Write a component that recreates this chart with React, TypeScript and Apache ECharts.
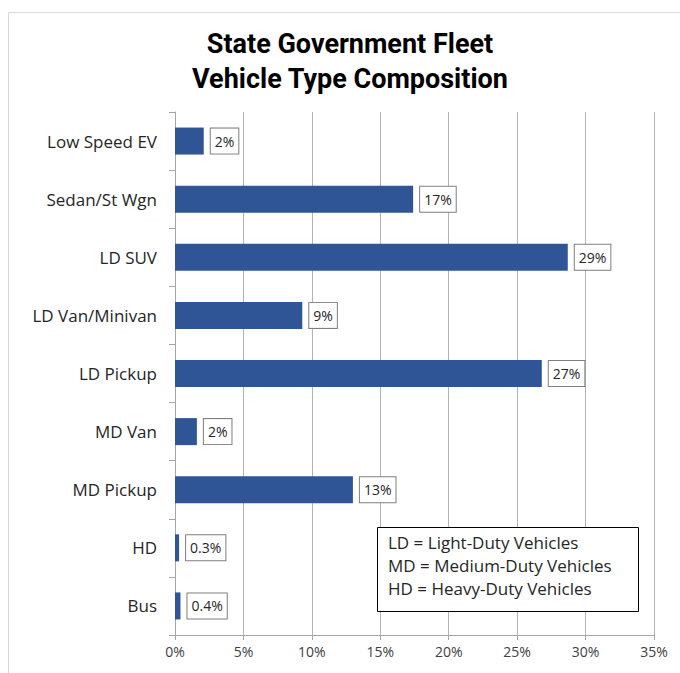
import React, { useEffect, useRef } from "react";
import * as echarts from "echarts";

const categories = [
  "Low Speed EV",
  "Sedan/St Wgn",
  "LD SUV",
  "LD Van/Minivan",
  "LD Pickup",
  "MD Van",
  "MD Pickup",
  "HD",
  "Bus",
];
const shares = [2.1, 17.4, 28.7, 9.3, 26.8, 1.6, 13.0, 0.3, 0.4];
const xTicks = [0, 5, 10, 15, 20, 25, 30, 35];
const notes = [
  "LD = Light-Duty Vehicles",
  "MD = Medium-Duty Vehicles",
  "HD = Heavy-Duty Vehicles",
];
const titleText = "State Government Fleet\nVehicle Type Composition";

const TITLE_FONT = "'Roboto', sans-serif";
const BODY = "'Open Sans', 'Roboto', sans-serif";

export default function App() {
  const ref = useRef<HTMLDivElement>(null);
  useEffect(() => {
    if (!ref.current) return;
    const chart = echarts.init(ref.current, null, { renderer: "svg" });
    chart.setOption({
      animation: false,
      backgroundColor: "#ffffff",
      grid: { left: 175, right: 26, top: 112, bottom: 38 },
      xAxis: {
        type: "value",
        min: xTicks[0],
        max: xTicks[xTicks.length - 1],
        interval: 5,
        axisLine: { show: true, lineStyle: { color: "#a6a6a6" } },
        axisTick: { show: true, length: 5, lineStyle: { color: "#a6a6a6" } },
        splitLine: { show: true, lineStyle: { color: "#b3b3b3", width: 1 } },
        axisLabel: {
          formatter: (v: number) => `${v}%`,
          fontFamily: BODY,
          fontSize: 14,
          color: "#404040",
          margin: 9,
        },
      },
      yAxis: {
        type: "category",
        data: categories,
        inverse: true,
        axisLine: { show: true, lineStyle: { color: "#a6a6a6" } },
        axisTick: { show: true, length: 6, lineStyle: { color: "#a6a6a6" } },
        axisLabel: {
          fontFamily: BODY,
          fontSize: 17,
          color: "#262626",
          margin: 18,
        },
      },
      series: [
        {
          type: "bar",
          data: shares,
          barWidth: 27,
          itemStyle: { color: "#2F5597" },
          label: {
            show: true,
            position: "right",
            distance: 7,
            formatter: (p: any) =>
              p.value >= 1 ? `${Math.round(p.value)}%` : `${p.value.toFixed(1)}%`,
            backgroundColor: "#ffffff",
            borderColor: "#7f7f7f",
            borderWidth: 1,
            padding: [6, 4, 5, 4],
            fontFamily: BODY,
            fontSize: 14,
            color: "#262626",
          },
        },
      ],
      graphic: [
        {
          type: "rect",
          shape: { x: 8.5, y: 12.5, width: 700, height: 700 },
          style: { fill: "none", stroke: "#d9d9d9", lineWidth: 1 },
          silent: true,
        },
        {
          type: "text",
          x: 350,
          y: 26,
          style: {
            text: titleText,
            textAlign: "center",
            textVerticalAlign: "top",
            fontFamily: TITLE_FONT,
            fontWeight: "bold",
            fontSize: 27,
            lineHeight: 35,
            fill: "#000000",
          },
        },
        {
          type: "rect",
          shape: { x: 377.5, y: 527.5, width: 261, height: 84 },
          style: { fill: "#ffffff", stroke: "#000000", lineWidth: 1 },
          z: 10,
        },
        ...notes.map((t, i) => ({
          type: "text",
          x: 388,
          y: 534 + i * 23,
          z: 11,
          style: {
            text: t,
            fontFamily: BODY,
            fontSize: 17,
            fill: "#262626",
          },
        })),
      ],
    });
    return () => chart.dispose();
  }, []);
  return (
    <div
      ref={ref}
      style={{ position: "fixed", left: 0, top: 0, width: 680, height: 673 }}
    />
  );
}
